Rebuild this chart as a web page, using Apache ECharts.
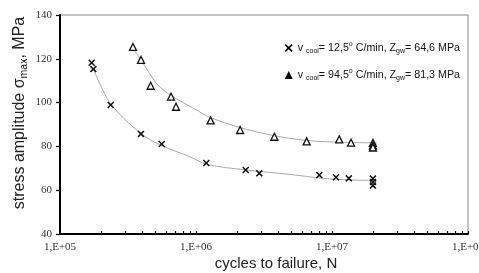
<!DOCTYPE html>
<html>
<head>
<meta charset="utf-8">
<script src="https://cdn.jsdelivr.net/npm/echarts@6/dist/echarts.min.js"></script>
<style>
  html, body { margin: 0; padding: 0; background: #fff; }
  #chart { width: 479px; height: 273px; }
</style>
</head>
<body>
<div id="chart"></div>
<script>
// dane: [liczba cykli N, amplituda naprezen MPa]
var coolRates = ['12,5', '94,5'];
var zgwValues = ['64,6', '81,3'];
var xTickLabels = ['1,E+05', '1,E+06', '1,E+07', '1,E+08'];
var yTicks = [40, 60, 80, 100, 120, 140];

var crossPoints = [
  [1.71e5, 118.2], [1.76e5, 115.3], [2.36e5, 98.9], [3.94e5, 85.7], [5.6e5, 81.1],
  [1.19e6, 72.4], [2.32e6, 69.2], [2.92e6, 67.7], [8.07e6, 66.9], [1.07e7, 65.9],
  [1.33e7, 65.4], [2.0e7, 65.3], [2.0e7, 63.7], [2.0e7, 62.1]
];
var triPoints = [
  [3.44e5, 125.4], [3.94e5, 119.5], [4.64e5, 107.7], [6.55e5, 102.7], [7.13e5, 98.1],
  [1.28e6, 91.9], [2.11e6, 87.5], [3.77e6, 84.4], [6.51e6, 82.3], [1.13e7, 83.2],
  [1.38e7, 81.7], [2.0e7, 81.6], [2.0e7, 80.4], [2.0e7, 79.5]
];
// linie trendu
var crossCurve = [
  [1.75e5, 115.8], [2.33e5, 99.9], [3.87e5, 86.2], [5.43e5, 80.7], [9.03e5, 75.3],
  [1.2e6, 71.8], [2.36e6, 69.2], [4.91e6, 67.2], [8.6e6, 65.4], [1.36e7, 64.7], [2.13e7, 64.4]
];
var triCurve = [
  [3.45e5, 124.5], [3.94e5, 119.5], [5.16e5, 108.5], [6.5e5, 103.4], [9.84e5, 97],
  [1.27e6, 93.2], [2.11e6, 88.6], [3.68e6, 85], [6.51e6, 82.7], [1.15e7, 81.9], [2.13e7, 81.6]
];

var crossIcon = 'path://M0,1.5L1.5,0L5,3.5L8.5,0L10,1.5L6.5,5L10,8.5L8.5,10L5,6.5L1.5,10L0,8.5L3.5,5Z';

// podzialka logarytmiczna 2..9 x 10^k
var xMinorTicks = [];
for (var e = 5; e < 8; e++) {
  for (var m = 1; m <= 9; m++) xMinorTicks.push(m * Math.pow(10, e));
}
xMinorTicks.push(1e8);

var myChart = echarts.init(document.getElementById('chart'));

function legendText(i) {
  return '{t|v }{s|cool}{t|= ' + coolRates[i] + '}{p|o}{t| C/min, Z}{s|gw}{t|= ' + zgwValues[i] + ' MPa}';
}

var option = {
  backgroundColor: '#fff',
  animation: false,
  grid: {
    left: 60, right: 11, top: 15, bottom: 39,
    outerBoundsMode: 'none',
    containLabel: false,
    show: true, borderColor: '#888', borderWidth: 1
  },
  legend: {
    orient: 'vertical',
    right: 14, top: 36,
    itemGap: 13,
    itemWidth: 8, itemHeight: 8,
    data: [
      { name: 's1', icon: crossIcon, itemStyle: { color: '#000', borderWidth: 0 } },
      { name: 's2', icon: 'triangle', itemStyle: { color: '#000', borderWidth: 0 } }
    ],
    formatter: function (name) { return legendText(name === 's1' ? 0 : 1); },
    textStyle: {
      fontFamily: 'Liberation Sans',
      color: '#111',
      rich: {
        t: { fontSize: 10.7, fontFamily: 'Liberation Sans', color: '#111', lineHeight: 14, verticalAlign: 'middle' },
        s: { fontSize: 7, fontFamily: 'Liberation Sans', color: '#111', lineHeight: 14, verticalAlign: 'bottom', padding: [6, 0, 0, 0] },
        p: { fontSize: 7, fontFamily: 'Liberation Sans', color: '#111', lineHeight: 14, verticalAlign: 'top', padding: [0, 0, 6, 0] }
      }
    }
  },
  xAxis: {
    type: 'log',
    logBase: 10,
    min: 1e5, max: 1e8,
    interval: 1,
    axisLine: { lineStyle: { color: '#000', width: 2 } },
    axisTick: { show: true, inside: true, length: 3, customValues: xMinorTicks, lineStyle: { color: '#000', width: 1.2 } },
    splitLine: { show: false },
    axisLabel: {
      fontFamily: 'Liberation Serif', fontSize: 11, color: '#333', margin: 8,
      formatter: function (v) {
        var k = Math.round(Math.log10(v)) - 5;
        return xTickLabels[k];
      }
    }
  },
  yAxis: {
    type: 'value',
    min: yTicks[0], max: yTicks[yTicks.length - 1], interval: 20,
    axisLine: { show: true, lineStyle: { color: '#000', width: 2 } },
    axisTick: { show: true, inside: false, length: 4, lineStyle: { color: '#000', width: 1.2 } },
    splitLine: { show: false },
    axisLabel: { fontFamily: 'Liberation Serif', fontSize: 11, color: '#333', margin: 8 }
  },
  graphic: [
    {
      type: 'text',
      x: 20, y: 113,
      rotation: Math.PI / 2,
      style: {
        text: '{t|stress amplitude σ}{s|max}{t|, MPa}',
        align: 'center', verticalAlign: 'middle',
        rich: {
          t: { fontSize: 16, fontFamily: 'Liberation Sans', fill: '#222', lineHeight: 19, verticalAlign: 'middle' },
          s: { fontSize: 10.5, fontFamily: 'Liberation Sans', fill: '#222', lineHeight: 19, verticalAlign: 'bottom', padding: [8, 0, 0, 0] }
        }
      }
    },
    {
      type: 'text',
      x: 276, y: 264,
      style: {
        text: 'cycles to failure, N',
        align: 'center', verticalAlign: 'middle',
        fontSize: 15, fontFamily: 'Liberation Sans', fill: '#222'
      }
    }
  ],
  series: [
    {
      name: 'fit1', type: 'line', data: crossCurve, smooth: 0.3, showSymbol: false,
      lineStyle: { color: '#aaa', width: 1 }, silent: true, z: 1
    },
    {
      name: 'fit2', type: 'line', data: triCurve, smooth: 0.3, showSymbol: false,
      lineStyle: { color: '#aaa', width: 1 }, silent: true, z: 1
    },
    {
      name: 's1', type: 'scatter', data: crossPoints,
      symbol: crossIcon, symbolSize: 7,
      itemStyle: { color: '#111', opacity: 1 }, z: 3
    },
    {
      name: 's2', type: 'scatter', data: triPoints,
      symbol: 'triangle', symbolSize: 7,
      itemStyle: { color: '#fff', borderColor: '#111', borderWidth: 1.3, opacity: 1 }, z: 3
    }
  ]
};

myChart.setOption(option);
</script>
</body>
</html>
